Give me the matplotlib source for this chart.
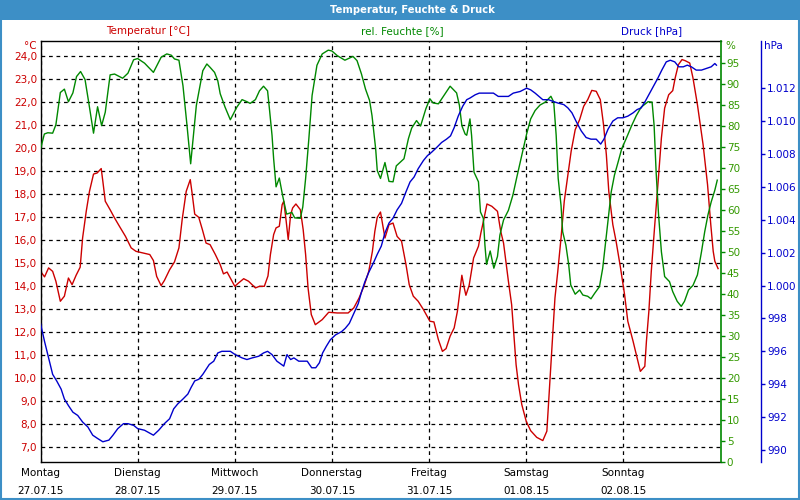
import matplotlib
matplotlib.use("Agg")
import matplotlib.pyplot as plt
from matplotlib.patches import Rectangle
from matplotlib.ticker import FuncFormatter

# Stunden seit Montag 00:00
tage = ["Montag", "Dienstag", "Mittwoch", "Donnerstag", "Freitag", "Samstag", "Sonntag"]
daten = ["27.07.15", "28.07.15", "29.07.15", "30.07.15", "31.07.15", "01.08.15", "02.08.15"]

t_temp = [0.0, 1.0, 2.0, 3.0, 3.8, 4.9, 5.9, 6.9, 7.8, 8.8,
          9.8, 10.4, 11.3, 12.1, 13.1, 14.0, 15.0, 15.4, 16.0, 17.2,
          18.3, 19.5, 21.0, 22.4, 23.6, 25.3, 27.0, 27.9, 28.7, 29.8,
          30.6, 31.9, 33.1, 34.2, 35.0, 36.0, 37.0, 37.5, 38.1, 39.1,
          40.0, 40.9, 41.9, 43.2, 44.4, 45.2, 46.1, 46.9, 48.0, 48.9,
          50.2, 51.4, 53.1, 54.1, 55.3, 56.2, 56.8, 57.6, 58.2, 59.0,
          59.7, 60.1, 60.7, 61.2, 61.8, 62.3, 63.1, 64.2, 64.9, 65.5,
          66.1, 66.9, 67.9, 69.6, 71.2, 73.3, 76.0, 77.4, 78.7, 79.9,
          81.1, 82.0, 82.6, 83.2, 84.0, 85.1, 86.1, 87.1, 88.1, 89.2,
          90.3, 91.1, 92.1, 93.3, 94.6, 96.2, 97.2, 98.3, 99.3, 100.2,
          101.2, 102.2, 103.0, 103.5, 104.1, 104.6, 105.1, 105.9, 107.0, 108.2,
          108.8, 109.6, 110.3, 111.5, 112.9, 113.7, 114.4, 115.6, 116.4, 117.0,
          117.5, 118.1, 118.9, 120.0, 121.1, 122.6, 124.1, 125.1, 125.5, 126.0,
          126.6, 127.1, 127.8, 128.6, 129.4, 130.3, 131.1, 132.1, 133.2, 134.2,
          135.2, 136.2, 137.3, 138.3, 139.1, 139.8, 140.4, 141.4, 142.2, 143.3,
          144.3, 145.1, 146.4, 147.4, 148.2, 149.3, 149.7, 150.3, 150.9, 151.7,
          152.6, 153.4, 154.2, 155.2, 156.2, 156.8, 157.6, 158.5, 159.3, 160.4,
          161.2, 162.3, 163.7, 164.8, 165.6, 166.2, 166.6, 167.4]
temp = [14.65, 14.41, 14.80, 14.65, 14.22, 13.35, 13.57, 14.36, 14.07, 14.48,
        14.83, 16.10, 17.26, 18.13, 18.88, 18.93, 19.12, 18.57, 17.70, 17.33,
        16.97, 16.61, 16.17, 15.67, 15.52, 15.45, 15.38, 15.12, 14.43, 14.03,
        14.25, 14.72, 15.06, 15.67, 16.90, 18.13, 18.64, 17.99, 17.14, 17.00,
        16.46, 15.88, 15.81, 15.38, 14.94, 14.54, 14.62, 14.36, 14.00, 14.14,
        14.33, 14.22, 13.93, 14.00, 14.00, 14.45, 15.38, 16.25, 16.54, 16.61,
        17.55, 17.70, 16.83, 16.03, 17.12, 17.41, 17.58, 17.33, 16.46, 15.38,
        13.93, 12.77, 12.33, 12.55, 12.87, 12.84, 12.84, 13.06, 13.49, 14.00,
        14.65, 15.52, 16.39, 17.00, 17.23, 16.10, 16.68, 16.75, 16.17, 15.96,
        14.94, 14.07, 13.57, 13.35, 12.99, 12.48, 12.45, 11.68, 11.17, 11.29,
        11.83, 12.19, 12.91, 13.64, 14.48, 14.00, 13.61, 14.04, 15.23, 15.74,
        16.32, 16.97, 17.58, 17.48, 17.26, 16.39, 15.88, 14.22, 13.20, 11.75,
        10.59, 9.72, 8.86, 8.13, 7.72, 7.43, 7.29, 7.70, 8.86, 10.30,
        12.04, 13.49, 14.65, 16.10, 17.70, 18.86, 19.87, 20.81, 21.25, 21.83,
        22.12, 22.52, 22.48, 22.12, 21.03, 19.72, 18.13, 16.68, 15.96, 14.80,
        13.64, 12.48, 11.61, 10.88, 10.30, 10.52, 11.61, 12.91, 14.65, 16.54,
        18.57, 20.45, 21.75, 22.33, 22.51, 23.06, 23.64, 23.86, 23.81, 23.71,
        23.06, 21.90, 20.16, 18.42, 16.68, 15.52, 15.09, 14.77]

t_feuchte = [0.0, 0.95, 1.8, 3.0, 3.8, 4.9, 5.9, 6.9, 8.0, 8.9,
             9.9, 11.0, 11.9, 13.1, 14.1, 15.1, 16.0, 17.2, 18.3, 20.3,
             21.6, 23.0, 24.0, 25.7, 27.9, 29.8, 31.2, 32.3, 33.1, 34.2,
             35.2, 36.2, 37.1, 37.7, 38.5, 39.3, 40.1, 41.1, 41.9, 43.0,
             43.8, 44.4, 45.6, 46.9, 48.5, 49.8, 51.0, 51.8, 53.1, 54.1,
             55.1, 56.1, 56.6, 57.2, 57.6, 58.2, 59.0, 59.8, 60.8, 62.1,
             62.8, 64.2, 64.8, 65.5, 66.3, 67.1, 68.3, 69.6, 71.1, 72.0,
             73.3, 75.2, 77.2, 78.2, 79.3, 80.3, 81.3, 81.9, 82.8, 83.2,
             84.0, 85.1, 86.1, 87.1, 87.9, 89.8, 90.9, 91.7, 92.9, 93.9,
             95.2, 96.2, 97.0, 98.3, 99.9, 101.2, 102.8, 103.5, 104.1, 104.9,
             105.3, 106.1, 106.5, 107.1, 108.2, 108.7, 109.4, 109.8, 110.2, 111.1,
             112.0, 112.9, 113.5, 114.4, 115.6, 116.7, 117.7, 118.9, 120.1, 121.1,
             122.2, 123.4, 124.7, 126.1, 126.8, 127.4, 127.9, 128.6, 129.0, 129.8,
             130.5, 131.0, 132.1, 133.2, 134.0, 135.2, 136.0, 136.9, 138.1, 138.9,
             139.8, 140.4, 141.0, 141.8, 142.7, 143.6, 144.7, 146.0, 147.2, 148.4,
             150.1, 151.1, 151.6, 152.1, 152.7, 153.4, 154.2, 155.4, 156.2, 157.3,
             158.3, 159.1, 160.1, 161.2, 162.3, 163.3, 164.1, 164.9, 165.7, 166.6,
             167.2]
feuchte = [74.5, 78.1, 78.4, 78.3, 80.3, 88.0, 88.8, 85.8, 87.9, 91.8,
           93.0, 91.1, 85.7, 78.3, 84.6, 80.1, 83.3, 92.2, 92.4, 91.4,
           92.6, 95.8, 96.1, 95.0, 92.8, 96.4, 97.2, 96.9, 96.0, 95.7,
           89.6, 80.1, 71.0, 77.0, 84.9, 89.0, 93.2, 94.8, 94.0, 92.8,
           90.8, 87.7, 84.5, 81.5, 84.5, 86.3, 85.8, 85.4, 86.3, 88.4,
           89.5, 88.4, 83.7, 77.8, 72.2, 65.5, 67.6, 63.5, 59.0, 59.4,
           58.1, 58.0, 60.7, 67.5, 77.0, 87.3, 94.5, 97.2, 98.1, 97.9,
           96.8, 95.7, 96.6, 95.6, 92.4, 88.8, 86.1, 82.5, 74.6, 69.4,
           67.5, 71.3, 66.8, 66.7, 70.5, 72.2, 77.0, 79.5, 81.3, 80.0,
           84.1, 86.5, 85.5, 85.3, 87.6, 89.5, 87.9, 84.9, 80.1, 78.1,
           77.8, 81.7, 77.8, 69.0, 66.7, 59.5, 58.0, 51.6, 47.0, 50.2,
           46.1, 48.9, 54.0, 57.6, 59.9, 63.5, 67.9, 73.0, 78.1, 81.7,
           83.7, 85.0, 85.7, 87.1, 85.7, 77.8, 67.5, 61.1, 54.8, 51.6,
           46.9, 42.1, 39.9, 40.9, 39.7, 39.4, 38.8, 40.1, 41.7, 46.1,
           54.0, 59.5, 64.3, 68.3, 71.4, 74.6, 77.0, 80.0, 82.5, 84.5,
           85.8, 85.7, 80.1, 69.0, 58.8, 50.0, 44.1, 42.9, 40.5, 38.2,
           37.0, 38.2, 40.9, 42.0, 44.5, 50.0, 54.8, 58.8, 61.9, 64.7,
           67.1]

t_druck = [0.0, 1.0, 2.0, 3.0, 4.0, 5.1, 5.9, 6.9, 8.0, 9.2,
           10.4, 11.7, 12.9, 14.1, 15.4, 16.9, 17.9, 19.1, 20.5, 21.6,
           23.0, 24.0, 25.7, 27.9, 29.2, 30.6, 31.9, 32.9, 33.9, 35.2,
           36.4, 37.2, 38.1, 39.1, 40.1, 40.9, 41.7, 42.8, 43.8, 44.8,
           46.9, 48.1, 49.8, 51.0, 52.3, 53.9, 55.1, 56.1, 57.2, 58.4,
           60.1, 60.9, 61.8, 62.6, 63.8, 65.9, 67.0, 68.0, 68.9, 69.7,
           70.6, 71.6, 72.9, 74.4, 75.3, 76.3, 77.4, 78.5, 79.3, 80.1,
           81.1, 82.3, 83.2, 84.2, 85.1, 86.1, 87.1, 88.1, 89.2, 90.3,
           91.3, 92.3, 93.3, 94.6, 95.6, 96.6, 97.9, 99.1, 100.3, 101.3,
           102.2, 103.2, 104.3, 105.3, 106.1, 107.4, 108.4, 110.2, 111.9, 113.1,
           114.8, 115.6, 116.8, 118.5, 120.1, 121.1, 122.2, 124.1, 125.5, 126.6,
           127.8, 129.3, 130.3, 131.3, 132.3, 133.6, 134.8, 136.0, 137.3, 138.4,
           139.2, 140.2, 141.4, 142.6, 143.9, 145.1, 146.4, 147.4, 148.4, 149.4,
           150.5, 151.6, 152.5, 153.5, 154.6, 155.6, 156.7, 157.7, 158.8, 159.8,
           160.8, 162.0, 163.3, 164.5, 165.7, 166.6, 167.0]
druck = [997.7, 996.6, 995.6, 994.6, 994.2, 993.7, 993.1, 992.7, 992.3, 992.1,
         991.7, 991.4, 990.9, 990.7, 990.5, 990.6, 990.9, 991.3, 991.6, 991.6,
         991.5, 991.3, 991.2, 990.9, 991.2, 991.6, 991.9, 992.5, 992.8, 993.1,
         993.4, 993.8, 994.2, 994.3, 994.6, 994.9, 995.2, 995.4, 995.9, 996.0,
         996.0, 995.8, 995.6, 995.5, 995.6, 995.7, 995.9, 996.0, 995.8, 995.4,
         995.1, 995.8, 995.5, 995.6, 995.4, 995.4, 995.0, 995.0, 995.3, 995.9,
         996.3, 996.7, 997.0, 997.2, 997.4, 997.7, 998.3, 998.9, 999.6, 1000.2,
         1000.8, 1001.4, 1001.9, 1002.4, 1003.2, 1003.8, 1004.1, 1004.6, 1005.0, 1005.7,
         1006.3, 1006.6, 1007.1, 1007.6, 1007.9, 1008.1, 1008.4, 1008.7, 1008.9, 1009.1,
         1009.6, 1010.3, 1010.9, 1011.3, 1011.4, 1011.6, 1011.7, 1011.7, 1011.7, 1011.5,
         1011.5, 1011.5, 1011.7, 1011.8, 1012.0, 1011.9, 1011.7, 1011.3, 1011.3, 1011.2,
         1011.1, 1011.0, 1010.8, 1010.5, 1010.0, 1009.4, 1009.0, 1008.9, 1008.9, 1008.6,
         1008.9, 1009.5, 1010.0, 1010.2, 1010.2, 1010.3, 1010.5, 1010.7, 1010.8, 1011.2,
         1011.7, 1012.2, 1012.6, 1013.1, 1013.6, 1013.7, 1013.6, 1013.3, 1013.3, 1013.4,
         1013.3, 1013.1, 1013.1, 1013.2, 1013.3, 1013.5, 1013.4]

rot = "#cc0000"
gruen = "#008800"
blau = "#0000cc"
fs = 7.5

plt.rcParams["font.family"] = "DejaVu Sans"
plt.rcParams["font.size"] = fs

fig = plt.figure(figsize=(8, 5), dpi=100)
fig.patches.append(Rectangle((0, 0.96), 1, 0.04, transform=fig.transFigure,
                             facecolor="#3d8fc6", edgecolor="none", zorder=0))
fig.patches.append(Rectangle((0.001, 0.002), 0.998, 0.997, transform=fig.transFigure,
                             facecolor="none", edgecolor="#3d8fc6", lw=1.5, zorder=0))
fig.text(0.516, 0.98, "Temperatur, Feuchte & Druck", color="white", weight="bold",
         ha="center", va="center", fontsize=7.2)

ax = fig.add_axes([40.5 / 800, 1 - 461.5 / 500, 680 / 800, 421 / 500])
ax.plot(t_temp, temp, color=rot, lw=1)
ax.set_xlim(0, 168)
ax.set_ylim(6.38, 24.69)
ax.set_yticks(range(7, 25))
ax.yaxis.set_major_formatter(FuncFormatter(lambda v, p: f"{v:.1f}".replace(".", ",")))
ax.set_xticks(range(0, 168, 24))
ax.set_xticklabels([a + "\n" + b for a, b in zip(tage, daten)], linespacing=1.9)
ax.tick_params(axis="x", length=0, pad=5, labelsize=fs)
ax.tick_params(axis="y", length=0, pad=2.5, labelcolor=rot, labelsize=fs)
ax.grid(True, color="black", linestyle=(0, (3, 3)), lw=0.9)
ax.spines["right"].set_visible(False)
for s in ["left", "top", "bottom"]:
    ax.spines[s].set_linewidth(1)

ax2 = ax.twinx()
ax2.plot(t_feuchte, feuchte, color=gruen, lw=1)
ax2.set_ylim(0, 100.4)
ax2.set_yticks(range(0, 100, 5))
ax2.tick_params(axis="y", length=3, width=1, color=gruen, labelcolor="#339900", pad=1.5, labelsize=fs)
for s in ["left", "top", "bottom"]:
    ax2.spines[s].set_visible(False)
ax2.spines["right"].set_color(gruen)
ax2.spines["right"].set_linewidth(1.2)

ax3 = ax.twinx()
ax3.plot(t_druck, druck, color=blau, lw=1)
ax3.set_ylim(989.3, 1014.9)
ax3.set_yticks(range(990, 1014, 2))
ax3.yaxis.set_major_formatter(FuncFormatter(lambda v, p: f"{v / 1000:.3f}" if v >= 1000 else f"{v:.0f}"))
ax3.spines["right"].set_position(("axes", (761 - 40.5) / 680))
ax3.spines["right"].set_color(blau)
ax3.spines["right"].set_linewidth(1)
for s in ["left", "top", "bottom"]:
    ax3.spines[s].set_visible(False)
ax3.tick_params(axis="y", length=3, width=1, color=blau, labelcolor=blau, pad=1.5, labelsize=fs)

# Beschriftungen oben
fig.text(148 / 800, 1 - 31 / 500, "Temperatur [°C]", color=rot, ha="center", va="center")
fig.text(402 / 800, 1 - 31 / 500, "rel. Feuchte [%]", color=gruen, ha="center", va="center")
fig.text(652 / 800, 1 - 31 / 500, "Druck [hPa]", color=blau, ha="center", va="center")
fig.text(37 / 800, 1 - 46 / 500, "°C", color=rot, ha="right", va="center")
fig.text(725 / 800, 1 - 46 / 500, "%", color="#339900", ha="left", va="center")
fig.text(764 / 800, 1 - 46 / 500, "hPa", color=blau, ha="left", va="center")

fig.savefig("out.png", dpi=100)
